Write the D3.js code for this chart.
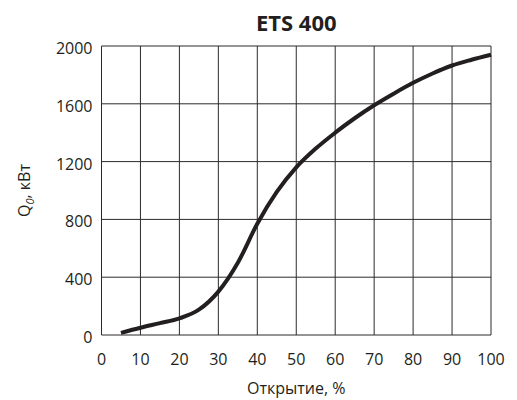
<!DOCTYPE html>
<html>
<head>
<meta charset="utf-8">
<script src="https://cdn.jsdelivr.net/npm/d3@7"></script>
<style>
  body { margin: 0; background: #fff; }
  svg text { font-family: "Open Sans", "DejaVu Sans", sans-serif; fill: #231f20; }
</style>
</head>
<body>
<svg id="chart" width="517" height="400"></svg>
<script>
// opening, %
const opening = [5, 10, 15, 20, 25, 30, 35, 40, 45, 50, 55, 60, 65, 70, 75, 80, 85, 90, 95, 100];
// Q0, kW
const power = [15, 50, 82, 115, 175, 300, 500, 770, 990, 1160, 1290, 1400, 1500, 1590, 1670, 1745, 1810, 1865, 1905, 1940];

const xTicks = [0, 10, 20, 30, 40, 50, 60, 70, 80, 90, 100];
const yTicks = [0, 400, 800, 1200, 1600, 2000];

const title = "ETS 400";
const xLabel = "Открытие, %";

const margin = {top: 46, right: 26, bottom: 65, left: 101.5};
const width = 517, height = 400;

const svg = d3.select("#chart");

const x = d3.scaleLinear().domain([0, 100]).range([margin.left, width - margin.right]);
const y = d3.scaleLinear().domain([0, 2000]).range([height - margin.bottom, margin.top]);

// grid
svg.append("g")
    .selectAll("line")
    .data(xTicks)
    .join("line")
    .attr("x1", d => x(d)).attr("x2", d => x(d))
    .attr("y1", y(0)).attr("y2", y(2000))
    .attr("stroke", "#2b2b2b")
    .attr("stroke-width", 1);

svg.append("g")
    .selectAll("line")
    .data(yTicks)
    .join("line")
    .attr("x1", x(0)).attr("x2", x(100))
    .attr("y1", d => y(d)).attr("y2", d => y(d))
    .attr("stroke", "#2b2b2b")
    .attr("stroke-width", 1);

// tick labels
svg.append("g")
    .selectAll("text")
    .data(xTicks)
    .join("text")
    .attr("x", d => x(d))
    .attr("y", y(0) + 30)
    .attr("text-anchor", "middle")
    .attr("font-size", 16)
    .text(d => d);

svg.append("g")
    .selectAll("text")
    .data(yTicks)
    .join("text")
    .attr("x", x(0) - 9)
    .attr("y", d => y(d) + 8)
    .attr("text-anchor", "end")
    .attr("font-size", 16)
    .text(d => d);

// curve
const line = d3.line()
    .x((d, i) => x(opening[i]))
    .y(d => y(d))
    .curve(d3.curveMonotoneX);

svg.append("path")
    .datum(power)
    .attr("d", line)
    .attr("fill", "none")
    .attr("stroke", "#231f20")
    .attr("stroke-width", 4)
    .attr("stroke-linejoin", "round");

// titles
svg.append("text")
    .attr("x", (x(0) + x(100)) / 2)
    .attr("y", 31)
    .attr("text-anchor", "middle")
    .attr("font-size", 22)
    .attr("font-weight", "bold")
    .text(title);

svg.append("text")
    .attr("x", (x(0) + x(100)) / 2)
    .attr("y", 394)
    .attr("text-anchor", "middle")
    .attr("font-size", 16)
    .text(xLabel);

const yl = svg.append("text")
    .attr("transform", `translate(30,${(y(0) + y(2000)) / 2}) rotate(-90)`)
    .attr("text-anchor", "middle")
    .attr("font-size", 16);
yl.append("tspan").text("Q");
yl.append("tspan").attr("font-size", 11).attr("font-style", "italic").attr("dy", 4).text("0");
yl.append("tspan").attr("dy", -4).text(", кВт");
</script>
</body>
</html>
